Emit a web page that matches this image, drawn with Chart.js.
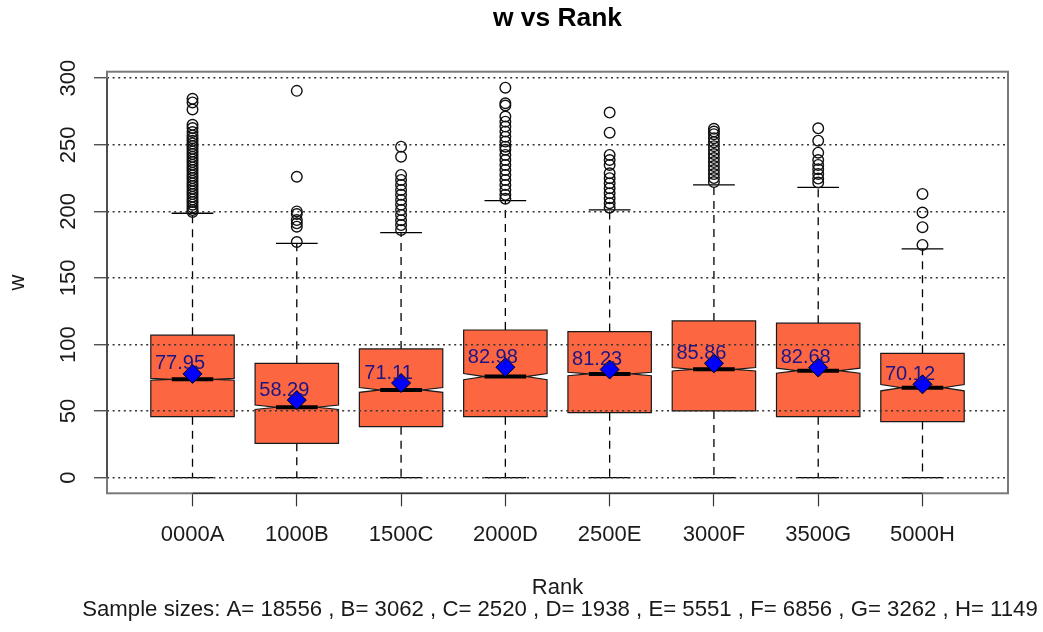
<!DOCTYPE html>
<html>
<head>
<meta charset="utf-8">
<script src="https://cdn.jsdelivr.net/npm/chart.js@4.4.1/dist/chart.umd.min.js"></script>
<style>html,body{margin:0;padding:0;background:#fff;}canvas{display:block;}</style>
</head>
<body>
<canvas id="c" width="1043" height="632"></canvas>
<script>
// ---------- data ----------
const categories = ['0000A', '1000B', '1500C', '2000D', '2500E', '3000F', '3500G', '5000H'];
const yTickValues = [0, 50, 100, 150, 200, 250, 300];
const yTickLabels = ['0', '50', '100', '150', '200', '250', '300'];

const whiskerLow  = [0, 0, 0, 0, 0, 0, 0, 0];
const q1          = [45.8, 25.8, 38.3, 45.8, 48.8, 50.1, 45.8, 42.1];
const median      = [73.9, 52.9, 65.9, 75.9, 77.9, 81.4, 80.4, 67.6];
const q3          = [107.0, 85.9, 96.7, 110.9, 109.7, 117.7, 116.0, 93.4];
const whiskerHigh = [198.6, 176.0, 184.0, 208.1, 201.1, 219.9, 218.1, 171.8];
const notchLow    = [73.2, 51.2, 64.1, 73.6, 76.6, 80.1, 78.5, 65.2];
const notchHigh   = [74.6, 54.6, 67.7, 78.2, 79.2, 82.7, 82.3, 70.0];
const means       = [77.95, 58.29, 71.11, 82.98, 81.23, 85.86, 82.68, 70.12];
const meanLabels  = ['77.95', '58.29', '71.11', '82.98', '81.23', '85.86', '82.68', '70.12'];

const outliersA = [284.5, 281.8, 276.5, 265.0, 262.6, 259.6, 257.0, 255.0, 253.0, 251.0, 249.0, 247.0, 245.0, 243.0, 241.0, 239.0, 237.0, 235.0, 233.0, 231.0, 229.0, 227.0, 225.0, 223.0, 221.0, 219.0, 217.0, 215.0, 213.0, 211.0, 209.0, 207.0, 205.0, 203.0, 201.0, 199.5];
const outliersB = [290.5, 226.0, 200.0, 198.0, 193.5, 191.0, 188.5, 177.0];
const outliersC = [248.6, 241.1, 227.4, 223.6, 219.9, 216.1, 212.4, 208.6, 204.9, 201.1, 197.3, 193.4, 189.7, 186.0];
const outliersD = [292.9, 281.2, 279.5, 271.2, 267.4, 263.7, 259.9, 256.1, 252.4, 248.6, 246.2, 242.4, 238.6, 234.9, 231.1, 227.4, 223.6, 219.9, 216.1, 212.4, 209.5];
const outliersE = [274.2, 259.1, 242.4, 238.6, 234.9, 228.6, 224.9, 221.1, 217.4, 213.6, 209.9, 206.1, 202.8];
const outliersF = [262.0, 260.0, 258.0, 255.0, 252.0, 249.0, 246.0, 243.0, 240.0, 237.0, 234.0, 231.0, 228.0, 225.0, 222.0];
const outliersG = [262.4, 253.1, 244.1, 238.6, 234.9, 231.6, 228.1, 224.6, 221.6];
const outliersH = [213.1, 199.1, 188.1, 174.8];

const sampleSizes = [18556, 3062, 2520, 1938, 5551, 6856, 3262, 1149];
const groupLetters = ['A', 'B', 'C', 'D', 'E', 'F', 'G', 'H'];

// ---------- derived tables ----------
const outlierGroups = [outliersA, outliersB, outliersC, outliersD, outliersE, outliersF, outliersG, outliersH];
const outlierPoints = [];
outlierGroups.forEach((arr, i) => arr.forEach(v => outlierPoints.push({x: i + 1, y: v})));
const meanPoints = means.map((m, i) => ({x: i + 1, y: m}));
const subtitleText = 'Sample sizes: ' + groupLetters.map((g, i) => g + '= ' + sampleSizes[i]).join(' , ');

const FONT = '"Liberation Sans", Arial, Helvetica, sans-serif';
const BOX_FILL = '#FC6742';

// boxes, whiskers, staples and medians (drawn before the grid, like R)
const boxPlugin = {
  id: 'notchedBoxes',
  beforeDraw(chart) {
    const {ctx, scales: {x, y}} = chart;
    const half = 0.4, frac = 0.5, staple = 0.2;
    ctx.save();
    for (let i = 0; i < categories.length; i++) {
      const c = i + 1;
      const cx = x.getPixelForValue(c);
      // whiskers
      ctx.strokeStyle = '#000';
      ctx.lineWidth = 1.3;
      ctx.setLineDash([8, 6]);
      ctx.beginPath();
      ctx.moveTo(cx, y.getPixelForValue(q3[i]));
      ctx.lineTo(cx, y.getPixelForValue(whiskerHigh[i]));
      ctx.moveTo(cx, y.getPixelForValue(q1[i]));
      ctx.lineTo(cx, y.getPixelForValue(whiskerLow[i]));
      ctx.stroke();
      ctx.setLineDash([]);
      // staples
      ctx.beginPath();
      [whiskerHigh[i], whiskerLow[i]].forEach(v => {
        const py = y.getPixelForValue(v);
        ctx.moveTo(x.getPixelForValue(c - staple), py);
        ctx.lineTo(x.getPixelForValue(c + staple), py);
      });
      ctx.stroke();
      // notched box polygon
      const kx = [-1, 1, 1, frac, 1, 1, -1, -1, -frac, -1];
      const vy = [q1[i], q1[i], notchLow[i], median[i], notchHigh[i], q3[i], q3[i], notchHigh[i], median[i], notchLow[i]];
      ctx.beginPath();
      kx.forEach((k, j) => {
        const px = x.getPixelForValue(c + half * k);
        const py = y.getPixelForValue(vy[j]);
        if (j === 0) ctx.moveTo(px, py); else ctx.lineTo(px, py);
      });
      ctx.closePath();
      ctx.fillStyle = BOX_FILL;
      ctx.fill();
      ctx.lineWidth = 1.2;
      ctx.strokeStyle = '#1a1a1a';
      ctx.stroke();
      // median
      ctx.beginPath();
      ctx.lineWidth = 4;
      ctx.strokeStyle = '#000';
      ctx.lineCap = 'butt';
      const my = y.getPixelForValue(median[i]);
      ctx.moveTo(x.getPixelForValue(c - half * frac), my);
      ctx.lineTo(x.getPixelForValue(c + half * frac), my);
      ctx.stroke();
    }
    ctx.restore();
  },
  afterDatasetsDraw(chart) {
    const {ctx, scales: {x, y}} = chart;
    ctx.save();
    ctx.font = '20px ' + FONT;
    ctx.fillStyle = '#1e1585';
    ctx.textAlign = 'center';
    ctx.textBaseline = 'middle';
    meanLabels.forEach((t, i) => {
      ctx.fillText(t, x.getPixelForValue(i + 1 - 0.12), y.getPixelForValue(means[i] + 7.5));
    });
    ctx.restore();
  },
  afterDraw(chart) {
    const {ctx, chartArea: a, scales: {x, y}} = chart;
    ctx.save();
    // frame
    ctx.strokeStyle = '#7a7a7a';
    ctx.lineWidth = 2;
    ctx.strokeRect(a.left, a.top, a.right - a.left, a.bottom - a.top);
    // axis lines
    ctx.strokeStyle = '#333';
    ctx.lineWidth = 1.2;
    ctx.beginPath();
    ctx.moveTo(x.getPixelForValue(1), a.bottom);
    ctx.lineTo(x.getPixelForValue(categories.length), a.bottom);
    ctx.moveTo(a.left, y.getPixelForValue(yTickValues[0]));
    ctx.lineTo(a.left, y.getPixelForValue(yTickValues[yTickValues.length - 1]));
    ctx.stroke();
    // rotated y tick labels (R style)
    ctx.font = '22px ' + FONT;
    ctx.fillStyle = '#1a1a1a';
    ctx.textAlign = 'center';
    ctx.textBaseline = 'alphabetic';
    yTickValues.forEach((v, i) => {
      ctx.save();
      ctx.translate(75, y.getPixelForValue(v));
      ctx.rotate(-Math.PI / 2);
      ctx.fillText(yTickLabels[i], 0, 0);
      ctx.restore();
    });
    // sample-size line under the x title
    ctx.font = '22.2px ' + FONT;
    ctx.textAlign = 'center';
    ctx.textBaseline = 'middle';
    ctx.fillText(subtitleText, 560, 609.5);
    ctx.restore();
  }
};

new Chart(document.getElementById('c'), {
  type: 'scatter',
  data: {
    datasets: [
      {
        label: 'outliers',
        data: outlierPoints,
        pointStyle: 'circle',
        pointRadius: 5.3,
        pointHoverRadius: 5.3,
        pointBackgroundColor: 'rgba(0,0,0,0)',
        pointBorderColor: '#111',
        pointBorderWidth: 1.4
      },
      {
        label: 'means',
        data: meanPoints,
        pointStyle: 'rectRot',
        pointRadius: 9.5,
        pointHoverRadius: 9.5,
        pointBackgroundColor: '#0000FF',
        pointBorderColor: '#000',
        pointBorderWidth: 1
      }
    ]
  },
  options: {
    responsive: false,
    animation: false,
    events: [],
    layout: {padding: {left: 0, right: 35, top: 0, bottom: 33.5}},
    plugins: {
      legend: {display: false},
      tooltip: {enabled: false},
      title: {
        display: true,
        fullSize: false,
        text: 'w vs Rank',
        color: '#000',
        font: {family: FONT, size: 26.4, weight: 'bold', lineHeight: 1},
        padding: {top: 5.7, bottom: 39.6}
      },
      subtitle: {display: false}
    },
    scales: {
      x: {
        type: 'linear',
        min: 0.18,
        max: 8.82,
        afterBuildTicks: s => { s.ticks = categories.map((c, i) => ({value: i + 1})); },
        afterFit: s => { s.height = 105.2; },
        ticks: {
          autoSkip: false,
          maxRotation: 0,
          minRotation: 0,
          padding: 17.5,
          color: '#1a1a1a',
          font: {family: FONT, size: 22, lineHeight: 1},
          callback: v => categories[v - 1]
        },
        grid: {
          drawOnChartArea: false,
          drawTicks: true,
          tickLength: 13,
          tickColor: '#333',
          tickWidth: 1.2
        },
        border: {display: false},
        title: {
          display: true,
          text: 'Rank',
          color: '#1a1a1a',
          font: {family: FONT, size: 22, lineHeight: 1},
          padding: {top: 0, bottom: 0}
        }
      },
      y: {
        type: 'linear',
        position: 'left',
        min: -11.73,
        max: 304.9,
        afterBuildTicks: s => { s.ticks = yTickValues.map(v => ({value: v})); },
        afterFit: s => { s.width = 107; },
        ticks: {display: false},
        grid: {
          color: '#333',
          lineWidth: 1.5,
          drawTicks: true,
          tickLength: 13,
          tickColor: '#333',
          tickWidth: 1.2,
          tickBorderDash: [20, 0]
        },
        border: {display: false, dash: [2, 3.6]},
        title: {
          display: true,
          text: 'w',
          color: '#1a1a1a',
          font: {family: FONT, size: 22, lineHeight: 1},
          padding: {top: 6.9, bottom: 0}
        }
      }
    }
  },
  plugins: [boxPlugin]
});
</script>
</body>
</html>
